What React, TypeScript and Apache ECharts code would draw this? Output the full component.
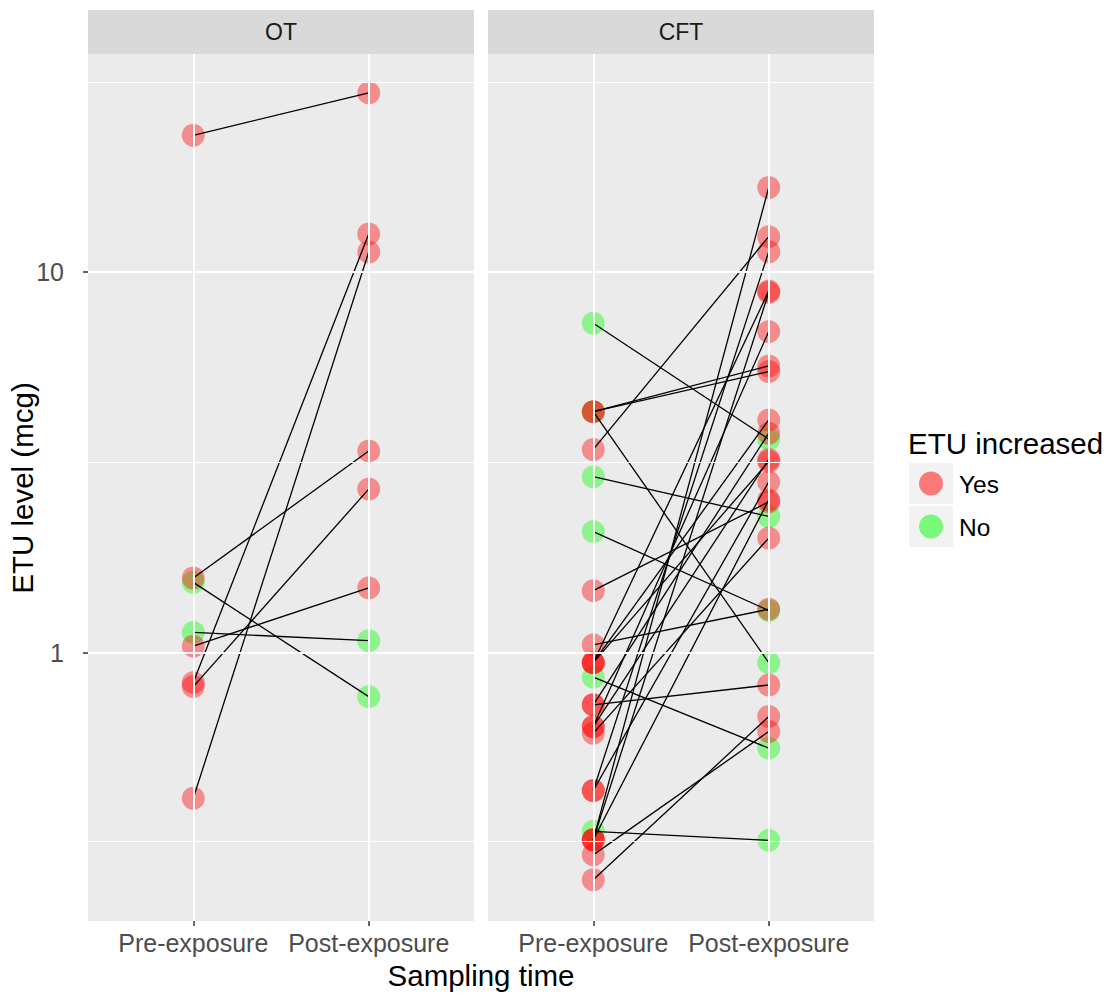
import React, { useEffect, useRef } from 'react';
import * as echarts from 'echarts';

const timepoints = ['Pre-exposure', 'Post-exposure'];
const panelNames = ['OT', 'CFT'];

// OT panel: paired values (pre -> post)
const otPre = [22.9, 1.57, 1.53, 1.13, 1.04, 0.834, 0.814, 0.414];
const otPost = [29.6, 3.39, 0.766, 1.075, 1.48, 12.6, 2.69, 11.3];

// CFT panel: paired values (pre -> post)
const cftPre = [
  7.34, 4.3, 2.9, 2.08, 0.862, 0.339,
  4.3, 4.3, 3.42, 1.455, 1.048, 0.729, 0.253, 0.294, 0.941, 0.941, 0.941,
  0.729, 0.639, 0.639, 0.614, 0.434, 0.434, 0.322, 0.322, 0.322,
];
const cftPost = [
  3.64, 0.941, 2.28, 1.29, 0.561, 0.321,
  5.48, 5.67, 12.4, 2.49, 1.3, 0.822, 0.679, 0.62, 8.93, 4.09, 3.18,
  3.77, 6.98, 3.22, 2.0, 11.32, 2.81, 16.7, 8.85, 2.52,
];

const yTickValues = [1, 10];
const yMinorValues = [0.316227766, 3.16227766, 31.6227766];
const legendTitle = 'ETU increased';
const legendLabels = ['Yes', 'No'];
const xTitle = 'Sampling time';
const yTitle = 'ETU level (mcg)';

const FONT = '"Liberation Sans", Arial, Helvetica, sans-serif';
const RED = 'rgba(255,0,0,0.5)';
const GREEN = 'rgba(0,255,0,0.5)';

const PANEL_TOP = 54;
const PANEL_H = 867;
const PANEL_W = 386;
const PANEL_LEFT = [88, 488];

function panelSeries(pre: number[], post: number[], idx: number) {
  const s: any[] = [];
  const white = (w: number) => ({ color: '#FFFFFF', width: w, type: 'solid' });
  s.push({
    type: 'scatter',
    xAxisIndex: idx,
    yAxisIndex: idx,
    data: [[1, 1]],
    symbolSize: 0,
    itemStyle: { opacity: 0 },
    silent: true,
    z: 1,
    markLine: {
      silent: true,
      symbol: 'none',
      label: { show: false },
      emphasis: { disabled: true },
      data: [
        ...yMinorValues.map((v) => ({ yAxis: v, lineStyle: white(1.2) })),
        ...yTickValues.map((v) => ({ yAxis: v, lineStyle: white(2) })),
        ...timepoints.map((_, i) => ({ xAxis: i + 1, lineStyle: white(2) })),
      ],
    },
  });
  const yes: number[][] = [];
  const no: number[][] = [];
  pre.forEach((p, i) => {
    const target = post[i] > p ? yes : no;
    target.push([1, p]);
    target.push([2, post[i]]);
  });
  s.push({
    name: legendLabels[1],
    type: 'scatter',
    xAxisIndex: idx,
    yAxisIndex: idx,
    data: no,
    symbolSize: 23,
    itemStyle: { color: GREEN },
    z: 2,
    silent: true,
  });
  s.push({
    name: legendLabels[0],
    type: 'scatter',
    xAxisIndex: idx,
    yAxisIndex: idx,
    data: yes,
    symbolSize: 23,
    itemStyle: { color: RED },
    z: 2,
    silent: true,
  });
  pre.forEach((p, i) => {
    s.push({
      type: 'line',
      xAxisIndex: idx,
      yAxisIndex: idx,
      data: [
        [1, p],
        [2, post[i]],
      ],
      symbol: 'none',
      lineStyle: { color: '#000000', width: 1.3 },
      z: 3,
      silent: true,
    });
  });
  return s;
}

function txt(text: string, x: number, y: number, size: number, color: string, align = 'center', extra: any = {}) {
  return {
    type: 'text',
    x,
    y,
    ...extra,
    style: {
      text,
      fontSize: size,
      fontFamily: FONT,
      fill: color,
      align,
      textAlign: align,
      verticalAlign: 'middle',
      textVerticalAlign: 'middle',
    },
  };
}

function yLabel(v: number) {
  for (const t of yTickValues) {
    if (Math.abs(v - t) < t * 1e-6) return String(t);
  }
  return '';
}

export default function App() {
  const ref = useRef<HTMLDivElement>(null);
  useEffect(() => {
    if (!ref.current) return;
    const chart = echarts.init(ref.current, null, { renderer: 'svg' });
    const grids = PANEL_LEFT.map((left) => ({
      left,
      top: PANEL_TOP,
      width: PANEL_W,
      height: PANEL_H,
      show: true,
      backgroundColor: '#EBEBEB',
      borderWidth: 0,
      containLabel: false,
    }));
    const xAxes = PANEL_LEFT.map((_, i) => ({
      gridIndex: i,
      type: 'value',
      min: 0.4,
      max: 2.6,
      axisLine: { show: false },
      splitLine: { show: false },
      axisTick: {
        show: true,
        customValues: [1, 2],
        length: 5,
        lineStyle: { color: '#333333', width: 1.5 },
      },
      axisLabel: {
        customValues: [1, 2],
        formatter: (v: number) => timepoints[Math.round(v) - 1] ?? '',
        fontSize: 25,
        fontFamily: FONT,
        color: '#4D4D4D',
        margin: 9,
      },
    }));
    const yAxes = PANEL_LEFT.map((_, i) => ({
      gridIndex: i,
      type: 'log',
      logBase: 10,
      min: 0.197,
      max: 37.46,
      axisLine: { show: false },
      splitLine: { show: false },
      minorSplitLine: { show: false },
      axisTick: {
        show: i === 0,
        length: 5,
        lineStyle: { color: '#333333', width: 1.5 },
      },
      axisLabel: {
        show: i === 0,
        showMinLabel: false,
        showMaxLabel: false,
        formatter: (v: number) => yLabel(Number(v)),
        fontSize: 25,
        fontFamily: FONT,
        color: '#4D4D4D',
        margin: 24,
      },
    }));

    const graphic: any[] = [];
    panelNames.forEach((name, i) => {
      graphic.push({
        type: 'rect',
        shape: { x: PANEL_LEFT[i], y: 10, width: PANEL_W, height: PANEL_TOP - 10 },
        style: { fill: '#D9D9D9' },
        silent: true,
      });
      graphic.push(txt(name, PANEL_LEFT[i] + PANEL_W / 2, 32, 23, '#1A1A1A'));
    });
    graphic.push(txt(xTitle, 481, 975, 29.5, '#000000'));
    graphic.push(txt(yTitle, 22, 488, 29.5, '#000000', 'center', { rotation: Math.PI / 2 }));
    // legend
    graphic.push(txt(legendTitle, 908, 443, 29.5, '#000000', 'left'));
    const keyColors = [RED, GREEN];
    legendLabels.forEach((lab, i) => {
      const ky = 463 + i * 43;
      graphic.push({
        type: 'rect',
        shape: { x: 909, y: ky, width: 44, height: 41 },
        style: { fill: '#F2F2F2' },
        silent: true,
      });
      graphic.push({
        type: 'circle',
        shape: { cx: 931, cy: ky + 20.5, r: 12 },
        style: { fill: keyColors[i] },
        silent: true,
      });
      graphic.push(txt(lab, 959, ky + 21, 24.5, '#000000', 'left'));
    });

    chart.setOption({
      animation: false,
      backgroundColor: '#FFFFFF',
      grid: grids,
      xAxis: xAxes,
      yAxis: yAxes,
      series: [...panelSeries(otPre, otPost, 0), ...panelSeries(cftPre, cftPost, 1)],
      graphic,
    });
    return () => chart.dispose();
  }, []);
  return (
    <div
      ref={ref}
      style={{ position: 'fixed', left: 0, top: 0, width: 1111, height: 996, background: '#fff' }}
    />
  );
}
